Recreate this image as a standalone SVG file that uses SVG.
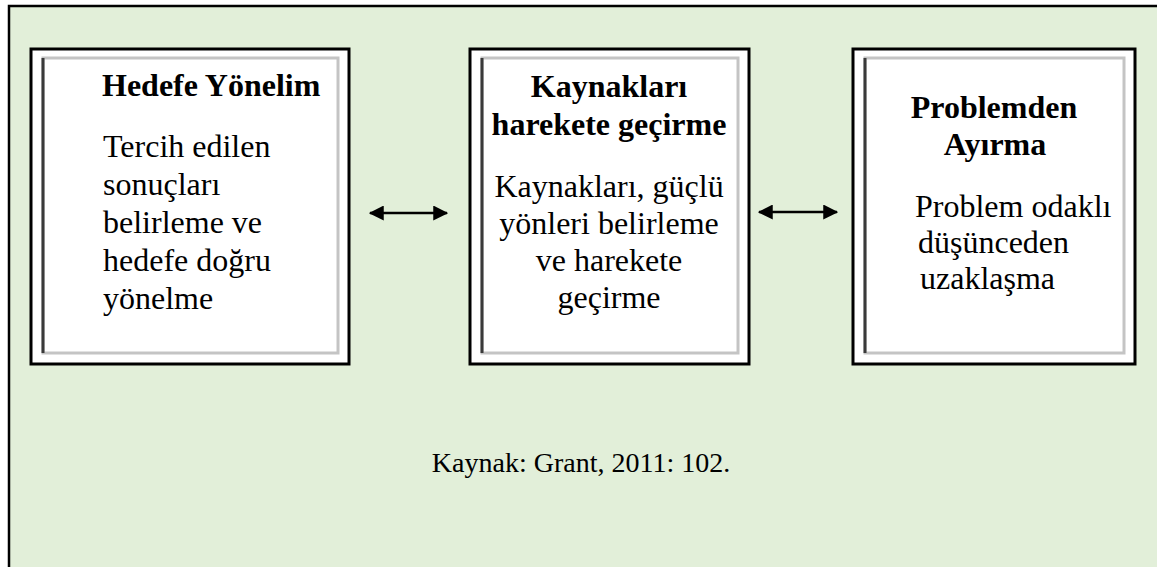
<svg xmlns="http://www.w3.org/2000/svg" width="1157" height="567" viewBox="0 0 1157 567">
<defs>
<style>
.frame{fill:#E2EFD9;stroke:#000;stroke-width:2.5}
.outer{fill:#fff;stroke:#000;stroke-width:3}
.bevel{fill:none;stroke:#c4c4c4;stroke-width:3}
.bevL{stroke:#3a3a3a;stroke-width:3}
.t{font-family:"Liberation Serif","Times New Roman",serif;font-size:32px;fill:#000}
.b{font-weight:bold}
.c{text-anchor:middle}
.conn{stroke:#000;stroke-width:2.5;fill:none}
</style>
<marker id="ah" markerWidth="6" markerHeight="6" refX="5.5" refY="3" orient="auto-start-reverse" markerUnits="strokeWidth">
<path d="M0,0 L6,3 L0,6 z" fill="#000"/>
</marker>
</defs>
<rect width="1157" height="567" fill="#fff"/>
<rect class="frame" x="9" y="6" width="1160" height="580"/>
<g id="node-hedefe">
<rect class="outer" x="31" y="49" width="318" height="315"/>
<rect class="bevel" x="43" y="58" width="295" height="295"/>
<line class="bevL" x1="43" y1="58" x2="43" y2="353"/>
<text class="t b" x="102" y="96">Hedefe Yönelim</text>
<text class="t" x="103" y="157">Tercih edilen</text>
<text class="t" x="103" y="195">sonuçları</text>
<text class="t" x="103" y="233">belirleme ve</text>
<text class="t" x="103" y="271">hedefe doğru</text>
<text class="t" x="103" y="309">yönelme</text>
</g>
<g id="node-kaynaklar">
<rect class="outer" x="470" y="49" width="279" height="315"/>
<rect class="bevel" x="482" y="58" width="256" height="295"/>
<line class="bevL" x1="482" y1="58" x2="482" y2="353"/>
<text class="t b c" x="609" y="97">Kaynakları</text>
<text class="t b c" x="609" y="135">harekete geçirme</text>
<text class="t c" x="609" y="197">Kaynakları, güçlü</text>
<text class="t c" x="609" y="234">yönleri belirleme</text>
<text class="t c" x="609" y="271">ve harekete</text>
<text class="t c" x="609" y="308">geçirme</text>
</g>
<g id="node-problem">
<rect class="outer" x="853" y="49" width="282" height="315"/>
<rect class="bevel" x="865" y="58" width="259" height="295"/>
<line class="bevL" x1="865" y1="58" x2="865" y2="353"/>
<text class="t b c" x="994" y="118">Problemden</text>
<text class="t b c" x="995" y="155">Ayırma</text>
<text class="t" x="915" y="217">Problem odaklı</text>
<text class="t" x="918" y="253">düşünceden</text>
<text class="t" x="920" y="289">uzaklaşma</text>
</g>
<g id="connectors">
<line class="conn" x1="370" y1="213" x2="447" y2="213" marker-start="url(#ah)" marker-end="url(#ah)"/>
<line class="conn" x1="759" y1="212" x2="837" y2="212" marker-start="url(#ah)" marker-end="url(#ah)"/>
</g>
<text class="t c" x="581" y="472" style="font-size:28px">Kaynak: Grant, 2011: 102.</text>
</svg>
